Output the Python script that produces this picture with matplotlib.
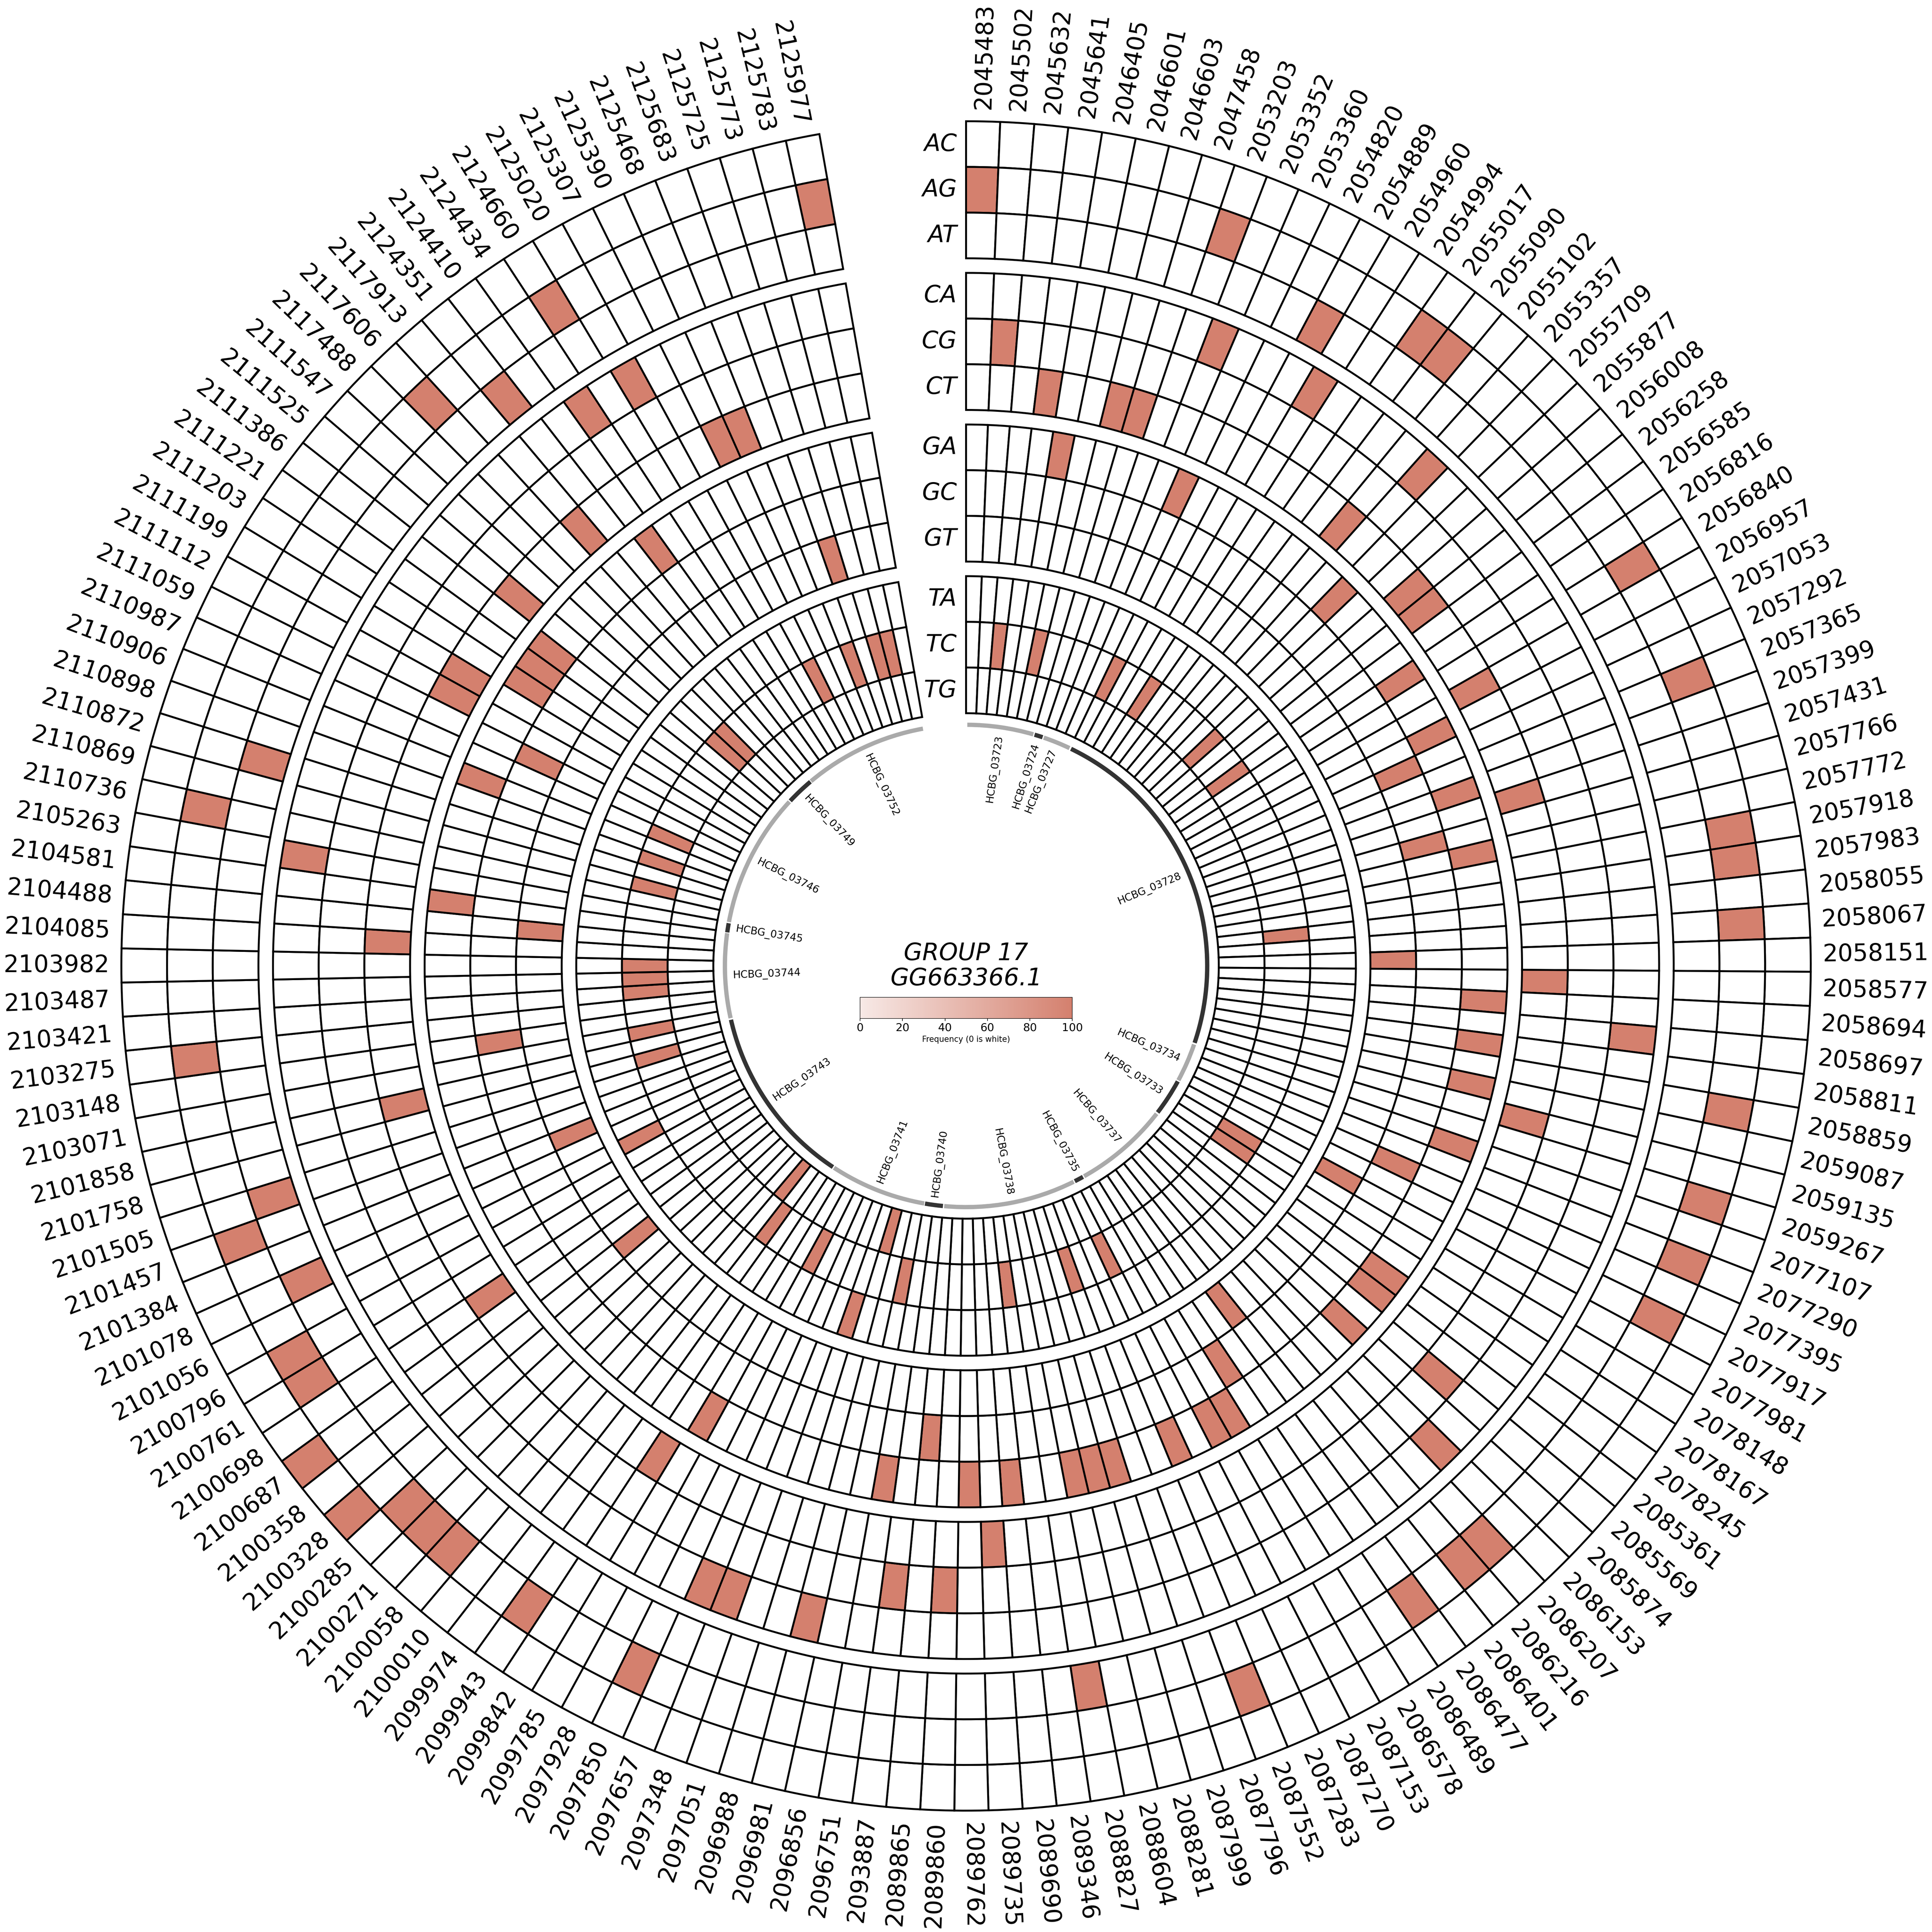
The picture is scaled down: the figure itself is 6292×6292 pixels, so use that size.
# circular heatmap of substitution types per genome position
import numpy as np
import matplotlib
matplotlib.use('Agg')
import matplotlib.pyplot as plt
from matplotlib.cm import ScalarMappable
from matplotlib.colors import LinearSegmentedColormap, Normalize

# genome positions, clockwise from the top
positions = [
    2045483, 2045502, 2045632, 2045641, 2046405, 2046601, 2046603, 2047458, 2053203, 2053352,
    2053360, 2054820, 2054889, 2054960, 2054994, 2055017, 2055090, 2055102, 2055357, 2055709,
    2055877, 2056008, 2056258, 2056585, 2056816, 2056840, 2056957, 2057053, 2057292, 2057365,
    2057399, 2057431, 2057766, 2057772, 2057918, 2057983, 2058055, 2058067, 2058151, 2058577,
    2058694, 2058697, 2058811, 2058859, 2059087, 2059135, 2059267, 2077107, 2077290, 2077395,
    2077917, 2077981, 2078148, 2078167, 2078245, 2085361, 2085569, 2085874, 2086153, 2086207,
    2086216, 2086401, 2086477, 2086489, 2086578, 2087153, 2087270, 2087283, 2087552, 2087796,
    2087999, 2088281, 2088604, 2088827, 2089346, 2089690, 2089735, 2089762, 2089860, 2089865,
    2093887, 2096751, 2096856, 2096981, 2096988, 2097051, 2097348, 2097657, 2097850, 2097928,
    2099785, 2099842, 2099943, 2099974, 2100010, 2100058, 2100271, 2100285, 2100328, 2100358,
    2100687, 2100698, 2100761, 2100796, 2101056, 2101078, 2101384, 2101457, 2101505, 2101758,
    2101858, 2103071, 2103148, 2103275, 2103421, 2103487, 2103982, 2104085, 2104488, 2104581,
    2105263, 2110736, 2110869, 2110872, 2110898, 2110906, 2110987, 2111059, 2111112, 2111199,
    2111203, 2111221, 2111386, 2111525, 2111547, 2117488, 2117606, 2117913, 2124351, 2124410,
    2124434, 2124660, 2125020, 2125307, 2125390, 2125468, 2125683, 2125725, 2125773, 2125783,
    2125977,
]

# the substitution seen at each position above (frequency 100 there, 0 elsewhere)
variants = [
    'AG', 'CG', 'TC', 'CT', 'GA', 'TC', 'CT', 'CT', 'AG', 'CA',
    'GA', 'TC', 'AT', 'CA', 'TC', 'AG', 'AG', 'CT', 'CA', 'GA',
    'TC', 'CT', 'CT', 'TC', 'GA', 'AG', 'CT', 'GA', 'GC', 'AG',
    'GA', 'CT', 'GC', 'GA', 'AG', 'AG', 'TC', 'AG', 'GT', 'CT',
    'GA', 'CA', 'GA', 'AG', 'GA', 'CT', 'AG', 'GA', 'AG', 'GC',
    'AG', 'GT', 'TC', 'TC', 'GA', 'GA', 'CG', 'GA', 'CA', 'AG',
    'AG', 'GT', 'AG', 'GC', 'GA', 'GA', 'TC', 'GA', 'AG', 'TC',
    'GA', 'GA', 'GA', 'AT', 'TC', 'GA', 'CT', 'GA', 'CG', 'GC',
    'CG', 'GA', 'TC', 'CA', 'TG', 'TA', 'CA', 'CA', 'AG', 'TC',
    'GA', 'CT', 'AG', 'TC', 'TG', 'AG', 'AG', 'AG', 'AC', 'GT',
    'AC', 'CT', 'AG', 'AG', 'TA', 'AT', 'GT', 'AG', 'AT', 'TC',
    'CT', 'TC', 'GC', 'AG', 'TC', 'TC', 'TC', 'CT', 'GT', 'GA',
    'CA', 'AG', 'TC', 'AT', 'TC', 'GA', 'TC', 'GC', 'CT', 'CT',
    'GA', 'GA', 'GA', 'CT', 'TC', 'TC', 'AG', 'CT', 'AT', 'GA',
    'CA', 'AG', 'CA', 'TC', 'CT', 'CT', 'TC', 'GT', 'TC', 'TC',
    'AG',
]

# rings from the outside in
groups = [['AC', 'AG', 'AT'], ['CA', 'CG', 'CT'], ['GA', 'GC', 'GT'], ['TA', 'TC', 'TG']]

# gene track: name, start and end angle in degrees
gene_names = ['HCBG_03723', 'HCBG_03724', 'HCBG_03727', 'HCBG_03728', 'HCBG_03734', 'HCBG_03733',
              'HCBG_03737', 'HCBG_03735', 'HCBG_03738', 'HCBG_03740', 'HCBG_03741', 'HCBG_03743',
              'HCBG_03744', 'HCBG_03745', 'HCBG_03746', 'HCBG_03749', 'HCBG_03752']
gene_start = [0.3, 16.5, 18.8, 25.8, 109.0, 118.6, 127.8, 151.0, 153.5, 185.5, 190.0, 213.5,
              257.5, 278.0, 280.5, 313.2, 320.0]
gene_end = [16.2, 18.5, 25.4, 108.6, 118.3, 127.4, 150.7, 153.2, 185.2, 189.8, 213.2, 257.1,
            277.8, 280.2, 312.9, 319.8, 349.7]
gene_colors = ['#aaaaaa', '#333333', '#aaaaaa', '#333333', '#aaaaaa', '#333333', '#aaaaaa', '#333333',
               '#aaaaaa', '#333333', '#aaaaaa', '#333333', '#aaaaaa', '#333333', '#aaaaaa', '#333333',
               '#aaaaaa']

SIZE = 6766  # layout units, same as the reference pixels
DPI = 300
SAVE_DPI = 279  # 6292 px, the run checker refuses anything over 40 megapixels
cmap = LinearSegmentedColormap.from_list('freq', ['#f7e9e6', '#d4806e'])
norm = Normalize(0, 100)

fig = plt.figure(figsize=(SIZE / DPI, SIZE / DPI), dpi=DPI)
ax = fig.add_axes([0, 0, 1, 1], projection='polar')
ax.set_theta_zero_location('N')
ax.set_theta_direction(-1)
ax.set_ylim(0, SIZE / 2)
ax.axis('off')

step = 350 / len(positions)  # 10 degree gap at the top
theta = np.deg2rad((np.arange(len(positions)) + 0.5) * step)
row_h = 160
gap = 51

# heatmap rings
r_top = 2958
for group in groups:
    for row in group:
        vals = np.array([100 if v == row else 0 for v in variants])
        colors = [cmap(norm(v)) if v > 0 else 'white' for v in vals]
        ax.bar(theta, row_h, width=np.deg2rad(step), bottom=r_top - row_h, color=colors,
               edgecolor='black', linewidth=1.6)
        ax.annotate(row, xy=(0, r_top - row_h / 2), xytext=(-7.7, 0), textcoords='offset points',
                    ha='right', va='center', fontsize=20, style='italic')
        r_top -= row_h
    r_top -= gap

# position labels
for t, label in zip(theta, positions):
    deg = np.rad2deg(t)
    if deg < 180:
        ax.text(t, 3000, str(label), rotation=90 - deg, rotation_mode='anchor',
                ha='left', va='center', fontsize=20)
    else:
        ax.text(t, 3000, str(label), rotation=270 - deg, rotation_mode='anchor',
                ha='right', va='center', fontsize=20)

# gene track
for name, g0, g1, col in zip(gene_names, gene_start, gene_end, gene_colors):
    ax.bar(np.deg2rad((g0 + g1) / 2), 15, width=np.deg2rad(g1 - g0), bottom=837, color=col, linewidth=0)
    mid = (g0 + g1) / 2
    rot = 90 - mid if mid < 180 else 270 - mid
    ax.text(np.deg2rad(mid), 698, name, rotation=rot, rotation_mode='anchor',
            ha='center', va='center', fontsize=8.7)

# title in the middle
fig.text(0.5, 1 - 3383 / SIZE, 'GROUP 17\nGG663366.1', ha='center', va='center',
         fontsize=20.2, style='italic', linespacing=1.1)

# colorbar
cax = fig.add_axes([3012 / SIZE, 1 - 3567 / SIZE, 743 / SIZE, 74 / SIZE])
cb = fig.colorbar(ScalarMappable(norm=norm, cmap=cmap), cax=cax, orientation='horizontal')
cb.set_ticks([0, 20, 40, 60, 80, 100])
cb.ax.tick_params(labelsize=9.3, length=2, width=0.5, pad=1.5)
cb.outline.set_linewidth(0.4)
cb.set_label('Frequency (0 is white)', fontsize=6.7, labelpad=2)

fig.savefig('out.png', dpi=SAVE_DPI)
